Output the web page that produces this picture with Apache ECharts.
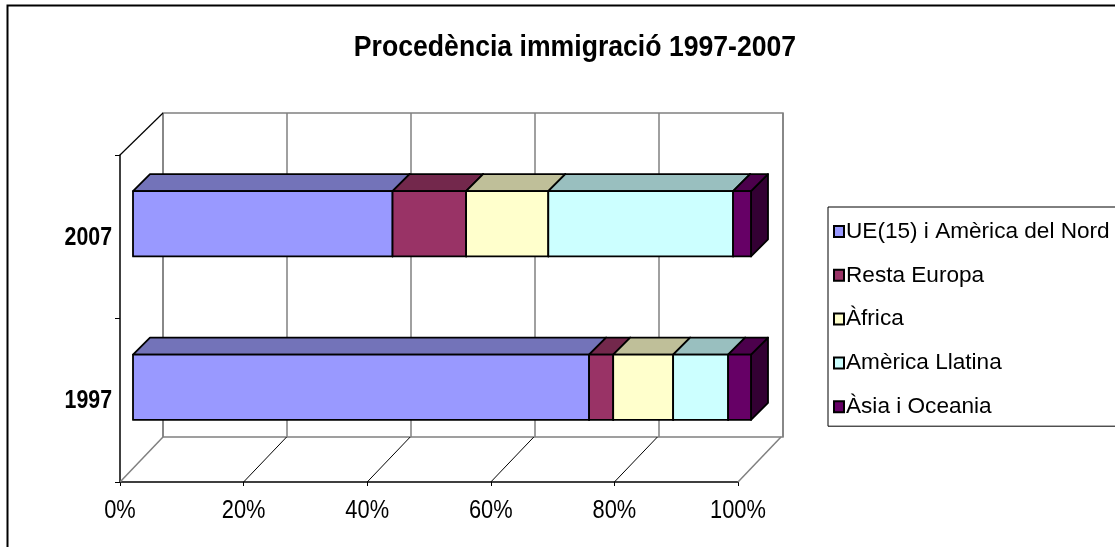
<!DOCTYPE html>
<html>
<head>
<meta charset="utf-8">
<script src="https://cdn.jsdelivr.net/npm/echarts@6/dist/echarts.min.js"></script>
<style>
html,body{margin:0;padding:0;background:#fff;}
#c{width:1115px;height:547px;}
</style>
</head>
<body>
<div id="c"></div>
<script>
// ---- data ----
const categories = ['1997', '2007'];
const seriesNames = ['UE(15) i Amèrica del Nord', 'Resta Europa', 'Àfrica', 'Amèrica Llatina', 'Àsia i Oceania'];
// percentage shares per category [1997, 2007]
const ueNord   = [73.8, 42.0];
const restaEur = [3.9, 11.9];
const africa   = [9.7, 13.3];
const amLlat   = [8.9, 29.9];
const asiaOce  = [3.7, 2.9];
const xTicks = [0, 20, 40, 60, 80, 100];
const xTickLabels = ['0%', '20%', '40%', '60%', '80%', '100%'];
const title = 'Procedència immigració 1997-2007';

// ---- styles ----
const frontColors = ['#9999FF', '#993366', '#FFFFCC', '#CCFFFF', '#660066'];
const topColors   = ['#7373B9', '#73284C', '#BFBF99', '#99BFBF', '#4C004C'];
const sideColors  = ['#4D4D80', '#4D1A33', '#808066', '#668080', '#330033'];
const FONT = "'Liberation Sans', Arial, sans-serif";
const NARROW = 0.84;       // horizontal squeeze to mimic a narrow face
const DEPTH = 17;          // bar depth offset (px)
const WALL_DX = 43, WALL_DY = -45, WALL_DY_TOP = -42; // chart box depth offset

const allValues = [ueNord, restaEur, africa, amLlat, asiaOce];

// build stacked ranges
const stacked = allValues.map((vals, si) => vals.map((v, ci) => {
  let start = 0;
  for (let k = 0; k < si; k++) start += allValues[k][ci];
  return [start, start + v, ci];
}));

const chart = echarts.init(document.getElementById('c'), null, {renderer: 'canvas'});

function renderBar(si) {
  return function (params, api) {
    const s = api.value(0), e = api.value(1), ci = api.value(2);
    const p0 = api.coord([s, ci]);
    const p1 = api.coord([e, ci]);
    const h = api.size([0, 1])[1] * 0.4;
    const x0 = p0[0], x1 = p1[0];
    const top = p0[1] - h / 2, bottom = p0[1] + h / 2;
    const d = DEPTH;
    const stroke = {stroke: '#000', lineWidth: 1.8, lineJoin: 'round'};
    return {
      type: 'group',
      children: [
        {type: 'polygon', shape: {points: [[x1, top], [x1 + d, top - d], [x1 + d, bottom - d], [x1, bottom]]},
          style: Object.assign({fill: sideColors[si]}, stroke)},
        {type: 'polygon', shape: {points: [[x0, top], [x0 + d, top - d], [x1 + d, top - d], [x1, top]]},
          style: Object.assign({fill: topColors[si]}, stroke)},
        {type: 'rect', shape: {x: x0, y: top, width: x1 - x0, height: h},
          style: Object.assign({fill: frontColors[si]}, stroke)}
      ]
    };
  };
}

const barSeries = seriesNames.map((name, si) => ({
  name: name,
  type: 'custom',
  xAxisIndex: 2,
  yAxisIndex: 2,
  data: stacked[si],
  encode: {x: [0, 1], y: 2},
  itemStyle: {color: frontColors[si], borderColor: '#000', borderWidth: 1},
  renderItem: renderBar(si),
  z: 3
}));

// floor / wall edges of the 3D box, drawn from the front axis ticks
const frameSeries = {
  type: 'custom',
  xAxisIndex: 0,
  yAxisIndex: 0,
  data: xTicks.map((v, i) => [v, i]),
  encode: {x: 0},
  silent: true,
  z: 2,
  renderItem: function (params, api) {
    const v = api.value(0);
    const cs = params.coordSys;
    const x = api.coord([v, 0])[0];
    const bottom = cs.y + cs.height;
    const edge = (v === xTicks[0] || v === xTicks[xTicks.length - 1]);
    const children = [{
      type: 'line',
      shape: {x1: x, y1: bottom, x2: x + WALL_DX, y2: bottom + WALL_DY},
      style: {stroke: edge ? '#808080' : '#000', lineWidth: edge ? 1.5 : 1}
    }, {
      type: 'text', x: x, y: bottom + 29, scaleX: NARROW,
      style: {text: xTickLabels[params.dataIndex], font: '26px ' + FONT, fill: '#000',
        align: 'center', verticalAlign: 'middle'}
    }];
    if (params.dataIndex === 0) {
      children.push({
        type: 'line',
        shape: {x1: cs.x, y1: cs.y, x2: cs.x + WALL_DX, y2: cs.y + WALL_DY_TOP},
        style: {stroke: '#000', lineWidth: 1.2}
      });
    }
    return {type: 'group', children: children};
  }
};

// category labels on the front vertical axis
const catLabelSeries = {
  type: 'custom',
  xAxisIndex: 0,
  yAxisIndex: 0,
  data: categories.map((c, i) => [0, i]),
  encode: {x: 0, y: 1},
  silent: true,
  z: 4,
  renderItem: function (params, api) {
    const p = api.coord([0, api.value(1)]);
    return {
      type: 'text', x: p[0] - 8, y: p[1] + 1, scaleX: 0.82,
      style: {text: categories[params.dataIndex], font: 'bold 26px ' + FONT, fill: '#000',
        align: 'right', verticalAlign: 'middle'}
    };
  }
};

const option = {
  animation: false,
  backgroundColor: '#fff',
  graphic: [
    {type: 'rect', silent: true, z: 0, shape: {x: 7.5, y: 5.5, width: 1200, height: 600},
      style: {fill: 'none', stroke: '#000', lineWidth: 2}},
    {type: 'text', x: 575, y: 48, z: 10, scaleX: 0.887, style: {text: title, font: "bold 30px " + FONT,
      fill: '#000', align: 'center', verticalAlign: 'middle'}}
  ],
  legend: {
    data: seriesNames,
    orient: 'vertical',
    left: 828,
    top: 207,
    icon: 'rect',
    itemWidth: 10,
    itemHeight: 11,
    itemGap: 20.8,
    padding: [13, 60, 8, 5],
    borderColor: '#000',
    borderWidth: 1,
    textStyle: {fontFamily: FONT, fontSize: 22.6, color: '#000', padding: [0, 0, 0, -3]},
    selectedMode: false
  },
  grid: [
    {left: 120, top: 155, width: 618, height: 327, containLabel: false},
    {left: 163, top: 113, width: 620, height: 324, containLabel: false, show: true,
      borderColor: '#808080', borderWidth: 1.5, backgroundColor: 'transparent'},
    {left: 133, top: 142, width: 618, height: 327, containLabel: false}
  ],
  xAxis: [
    {gridIndex: 0, type: 'value', min: 0, max: 100, interval: 20,
      axisLine: {show: true, lineStyle: {color: '#000', width: 1.5}},
      axisTick: {show: true, length: 4, lineStyle: {color: '#000'}},
      splitLine: {show: false},
      axisLabel: {show: false}},
    {gridIndex: 1, type: 'value', min: 0, max: 100, interval: 20,
      axisLine: {show: false}, axisTick: {show: false}, axisLabel: {show: false},
      splitLine: {show: true, lineStyle: {color: '#808080', width: 1.5}}},
    {gridIndex: 2, type: 'value', min: 0, max: 100, interval: 20, show: false,
      splitLine: {show: false}}
  ],
  yAxis: [
    {gridIndex: 0, type: 'category', data: categories,
      axisLine: {show: true, lineStyle: {color: '#000', width: 1.5}},
      axisTick: {show: true, length: 5, lineStyle: {color: '#000'}},
      axisLabel: {show: false}},
    {gridIndex: 1, type: 'category', data: categories, show: false},
    {gridIndex: 2, type: 'category', data: categories, show: false}
  ],
  series: [frameSeries, catLabelSeries].concat(barSeries)
};

chart.setOption(option);
</script>
</body>
</html>
